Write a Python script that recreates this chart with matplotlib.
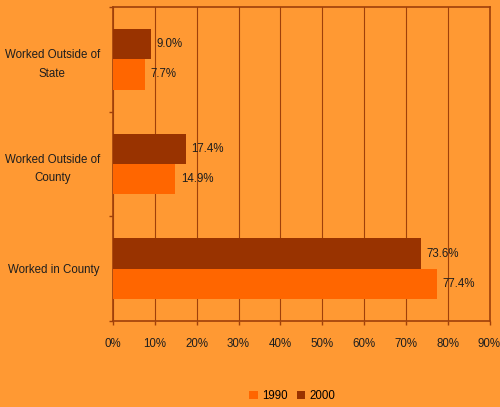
import numpy as np
import matplotlib
matplotlib.use("Agg")
import matplotlib.pyplot as plt
from matplotlib.patches import Patch
from matplotlib.ticker import FixedLocator

plt.rcParams["font.family"] = ["Liberation Sans", "DejaVu Sans"]

# commute destination shares, top to bottom
categories = ["Worked Outside of\nState", "Worked Outside of\nCounty", "Worked in County"]
share_1990 = [7.7, 14.9, 77.4]
share_2000 = [9.0, 17.4, 73.6]
x_ticks = [0, 10, 20, 30, 40, 50, 60, 70, 80, 90]

_BG = "#FF9933"
_C1990 = "#FF6600"
_C2000 = "#993300"
_LINE = "#A0400A"
_TXT = "#1E1E1E"
_FS = 8.3

fig = plt.figure(figsize=(5.0, 4.07), dpi=100, facecolor=_BG)
ax = fig.add_axes([0.226, 0.211, 0.753, 0.772], facecolor=_BG)

y = np.arange(len(categories))
h = 0.29
ax.barh(y - h / 2, share_2000, height=h, color=_C2000, zorder=3)
ax.barh(y + h / 2, share_1990, height=h, color=_C1990, zorder=3)

for yi, v in zip(y, share_2000):
    ax.text(v + 1.3, yi - h / 2, f"{v:.1f}%", va="center", ha="left", fontsize=_FS, color=_TXT, zorder=4)
for yi, v in zip(y, share_1990):
    ax.text(v + 1.3, yi + h / 2, f"{v:.1f}%", va="center", ha="left", fontsize=_FS, color=_TXT, zorder=4)

ax.set_xlim(0, 90)
ax.set_ylim(len(categories) - 0.5, -0.5)
ax.set_xticks(x_ticks)
ax.set_xticklabels([f"{t}%" for t in x_ticks], fontsize=_FS, color=_TXT)
ax.set_yticks(y)
ax.set_yticklabels(categories, fontsize=_FS, color=_TXT, multialignment="center", linespacing=1.75)
ax.yaxis.set_minor_locator(FixedLocator([-0.5, 0.5, 1.5, 2.5]))

ax.tick_params(axis="y", which="major", length=0, pad=9.5)
ax.tick_params(axis="y", which="minor", length=3, width=1, color=_LINE)
ax.tick_params(axis="x", length=3, width=1, color=_LINE, pad=9)

ax.grid(axis="x", color=_LINE, lw=0.8, zorder=1)
for side in ax.spines:
    ax.spines[side].set_color(_LINE)
    ax.spines[side].set_linewidth(1.2)

handles = [Patch(facecolor=_C1990, label="1990"), Patch(facecolor=_C2000, label="2000")]
fig.legend(handles=handles, loc="center", bbox_to_anchor=(0.585, 0.027), ncol=2,
           frameon=False, fontsize=_FS, handlelength=0.7, handleheight=0.7,
           handletextpad=0.4, columnspacing=0.8)

fig.savefig("out.png", dpi=100, facecolor=_BG)
